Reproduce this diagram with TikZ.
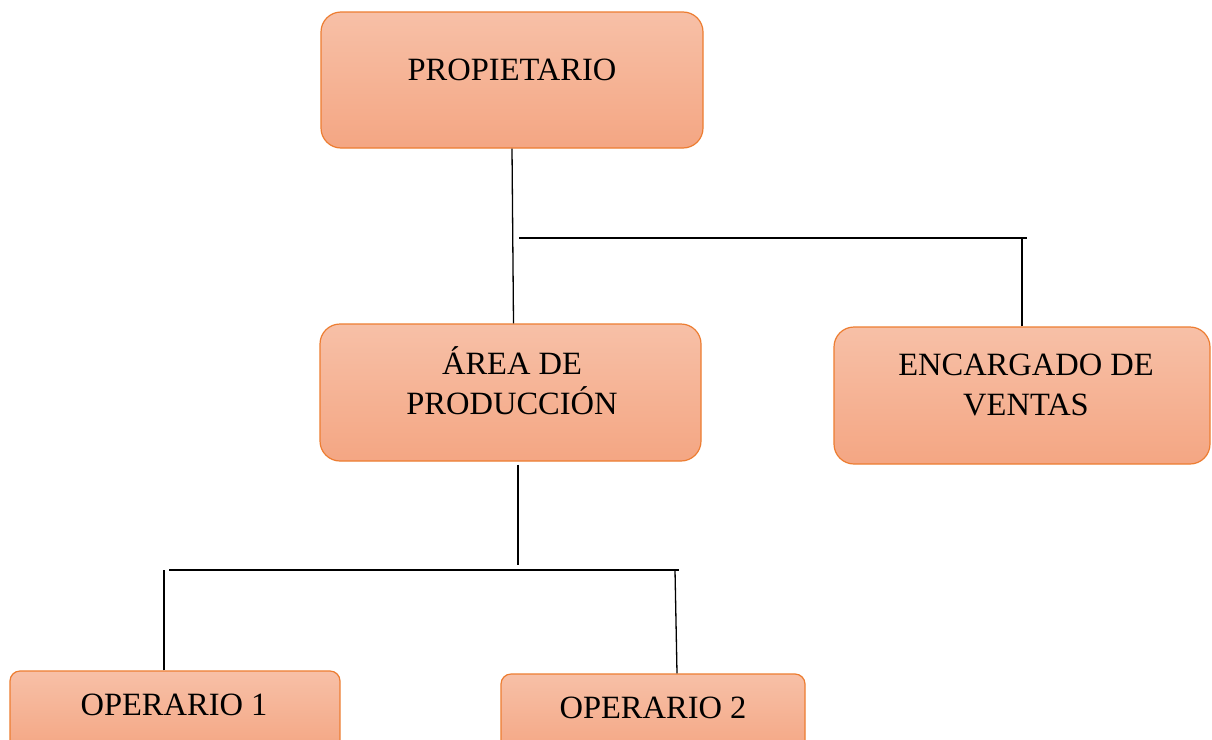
\documentclass[tikz,border=0pt]{standalone}
\usepackage{fontspec}
\setmainfont{Liberation Serif}
\definecolor{boxtop}{RGB}{247,192,167}
\definecolor{boxbot}{RGB}{244,166,131}
\definecolor{boxline}{RGB}{237,125,49}
\tikzset{
  orgbox/.style={draw=boxline, line width=1.2pt, top color=boxtop, bottom color=boxbot,
    rounded corners=20pt, inner sep=0pt},
  smallbox/.style={orgbox, rounded corners=10pt},
  lbl/.style={font=\fontsize{32.5}{40}\selectfont, align=center, inner sep=0pt},
  conn/.style={draw=black, line width=1.3pt}
}
\begin{document}
\begin{tikzpicture}[x=1pt,y=-1pt]
\useasboundingbox (0,0) rectangle (1212,739);
\clip (0,0) rectangle (1212,739);
\fill[white] (0,0) rectangle (1212,739);
% boxes
\node[orgbox, minimum width=382pt, minimum height=136pt] (p) at (512,80) {};
\node[orgbox, minimum width=381pt, minimum height=137pt] (a) at (510.5,392.5) {};
\node[orgbox, minimum width=376pt, minimum height=137pt] (e) at (1022,395.5) {};
\node[smallbox, minimum width=330pt, minimum height=80pt] (o1) at (175,711) {};
\node[smallbox, minimum width=304pt, minimum height=80pt] (o2) at (653,714) {};
% labels
\node[lbl] (pt) at (512,70) {PROPIETARIO};
\node[lbl] (at) at (512,381) {ÁREA DE\\PRODUCCIÓN};
\node[lbl] (et) at (1026,385) {ENCARGADO DE\\VENTAS};
\node[lbl] (o1t) at (174,705) {OPERARIO 1};
\node[lbl] (o2t) at (653,708) {OPERARIO 2};
% junction coordinates
\coordinate (j1) at (519,238);
\coordinate (j2) at (1027,238);
\coordinate (k1) at (169,570);
\coordinate (k2) at (679,570);
\coordinate (m) at (518,565);
% connectors
\draw[conn] (p.south) -- ([xshift=3pt]a.north);
\draw[conn] (j1) -- (j2);
\draw[conn] (e.north) -- (e.north |- j2);
\draw[conn] ([xshift=7.5pt,yshift=-3pt]a.south) -- (m);
\draw[conn] (k1) -- (k2);
\draw[conn] ([xshift=-11pt]o1.north) -- ([xshift=-11pt]o1.north |- k1);
\draw[conn] ([xshift=24pt]o2.north) -- ([xshift=22pt]o2.north |- k2);
\end{tikzpicture}
\end{document}
